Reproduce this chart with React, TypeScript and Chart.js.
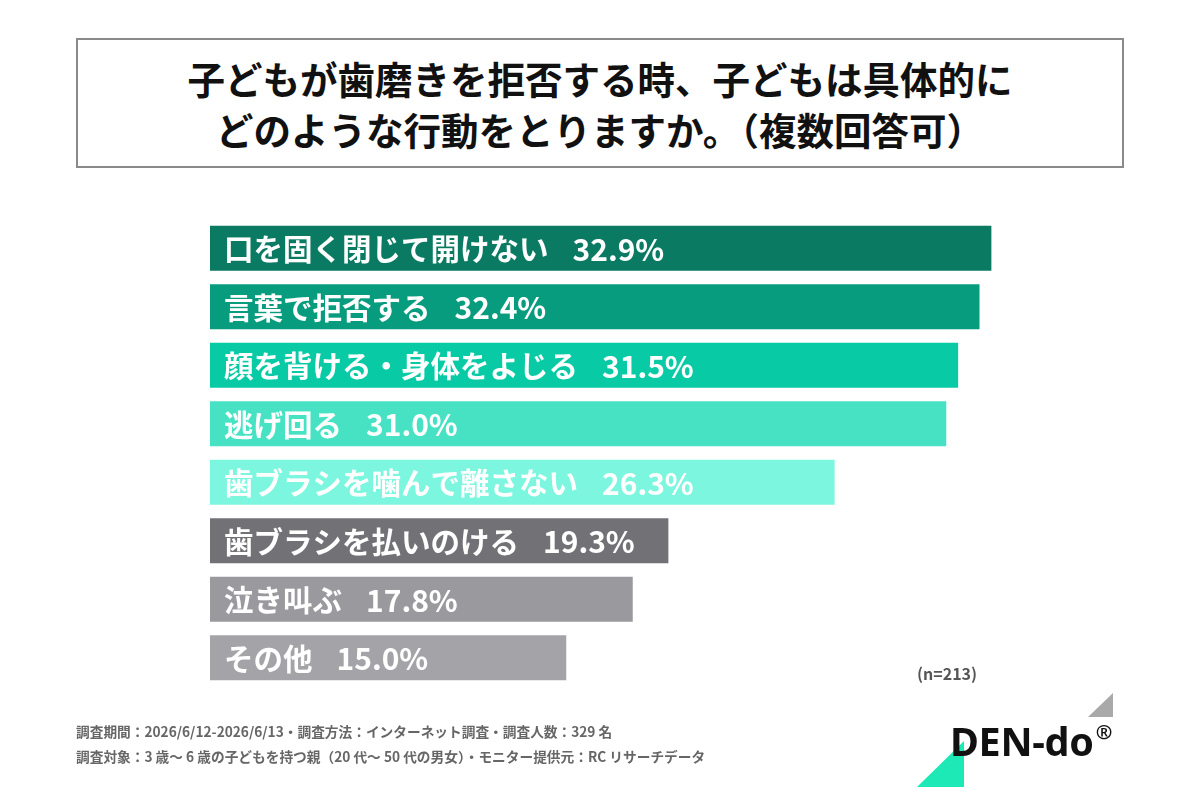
import React, { useEffect, useRef } from "react";
import { Chart, registerables } from "chart.js";

Chart.register(...registerables);

const categories = [
  "口を固く閉じて開けない",
  "言葉で拒否する",
  "顔を背ける・身体をよじる",
  "逃げ回る",
  "歯ブラシを噛んで離さない",
  "歯ブラシを払いのける",
  "泣き叫ぶ",
  "その他",
];
const values = [32.9, 32.4, 31.5, 31.0, 26.3, 19.3, 17.8, 15.0];
const barColors = [
  "#0B7A62",
  "#089C7E",
  "#08CBA6",
  "#47E2C3",
  "#7CF6DE",
  "#727176",
  "#9A999E",
  "#A4A3A8",
];
const titleLines = [
  "子どもが歯磨きを拒否する時、子どもは具体的に",
  "どのような行動をとりますか。（複数回答可）",
];
const footerLines = [
  "調査期間：2026/6/12-2026/6/13・調査方法：インターネット調査・調査人数：329 名",
  "調査対象：3 歳～ 6 歳の子どもを持つ親（20 代～ 50 代の男女）・モニター提供元：RC リサーチデータ",
];
const sampleNote = "(n=213)";

const FONT = '"Noto Sans CJK JP", "Noto Sans", sans-serif';

const labelPlugin = {
  id: "barLabels",
  afterDatasetsDraw(chart: any) {
    const ctx = chart.ctx;
    const meta = chart.getDatasetMeta(0);
    ctx.save();
    ctx.fillStyle = "#ffffff";
    ctx.textBaseline = "middle";
    ctx.textAlign = "left";
    meta.data.forEach((bar: any, i: number) => {
      const x = bar.base + 14;
      const y = bar.y + 1;
      const label = categories[i];
      ctx.font = `bold 29.5px ${FONT}`;
      ctx.fillText(label, x, y);
      const w = ctx.measureText(label).width;
      ctx.font = `bold 30px ${FONT}`;
      ctx.fillText(values[i].toFixed(1) + "%", x + w + 24, y);
    });
    ctx.restore();
  },
};

export default function App() {
  const ref = useRef<HTMLCanvasElement | null>(null);
  useEffect(() => {
    if (!ref.current) return;
    const chart = new Chart(ref.current, {
      type: "bar",
      data: {
        labels: categories,
        datasets: [
          {
            data: values,
            backgroundColor: barColors,
            borderWidth: 0,
            barPercentage: 0.77,
            categoryPercentage: 1,
          },
        ],
      },
      options: {
        indexAxis: "y",
        responsive: false,
        animation: false,
        layout: { padding: { left: 210, right: 40, top: 219, bottom: 113 } },
        plugins: { legend: { display: false }, tooltip: { enabled: false } },
        scales: {
          x: { display: false, min: 0, max: 40 },
          y: { display: false },
        },
      },
      plugins: [labelPlugin],
    });
    return () => chart.destroy();
  }, []);

  return (
    <div
      style={{
        position: "absolute",
        left: 0,
        top: 0,
        width: 1200,
        height: 800,
        background: "#ffffff",
        overflow: "hidden",
        fontFamily: FONT,
      }}
    >
      <div
        style={{
          position: "absolute",
          left: 76,
          top: 38,
          width: 1048,
          height: 130,
          boxSizing: "border-box",
          border: "2px solid #8a8a8a",
          display: "flex",
          flexDirection: "column",
          justifyContent: "center",
          alignItems: "center",
        }}
      >
        {titleLines.map((t, i) => (
          <div
            key={i}
            style={{
              fontSize: 37.5,
              fontWeight: 700,
              lineHeight: "51px",
              color: "#111",
              whiteSpace: "nowrap",
            }}
          >
            {t}
          </div>
        ))}
      </div>
      <canvas
        ref={ref}
        width={1200}
        height={800}
        style={{ position: "absolute", left: 0, top: 0, width: 1200, height: 800 }}
      />
      <div
        style={{
          position: "absolute",
          left: 917,
          top: 661,
          fontSize: 16,
          fontWeight: 700,
          color: "#555",
        }}
      >
        {sampleNote}
      </div>
      {footerLines.map((t, i) => (
        <div
          key={i}
          style={{
            position: "absolute",
            left: 76,
            top: 721 + i * 25,
            fontSize: 13.7,
            fontWeight: 700,
            color: "#666",
            whiteSpace: "nowrap",
          }}
        >
          {t}
        </div>
      ))}
      <svg
        width={1200}
        height={800}
        style={{ position: "absolute", left: 0, top: 0, pointerEvents: "none" }}
      >
        <polygon points="917,787 964,741 964,787" fill="#1DE9B6" />
        <polygon points="1088,717 1113,693 1113,717" fill="#A9A9A9" />
      </svg>
      <div
        style={{
          position: "absolute",
          left: 950,
          top: 714,
          fontSize: 39.5,
          fontWeight: 700,
          color: "#111",
          fontFamily: '"Noto Sans", sans-serif',
          whiteSpace: "nowrap",
          letterSpacing: -0.3,
        }}
      >
        DEN-do
        <sup style={{ fontSize: 20, verticalAlign: "top", position: "relative", top: 4, marginLeft: 2 }}>®</sup>
      </div>
    </div>
  );
}
